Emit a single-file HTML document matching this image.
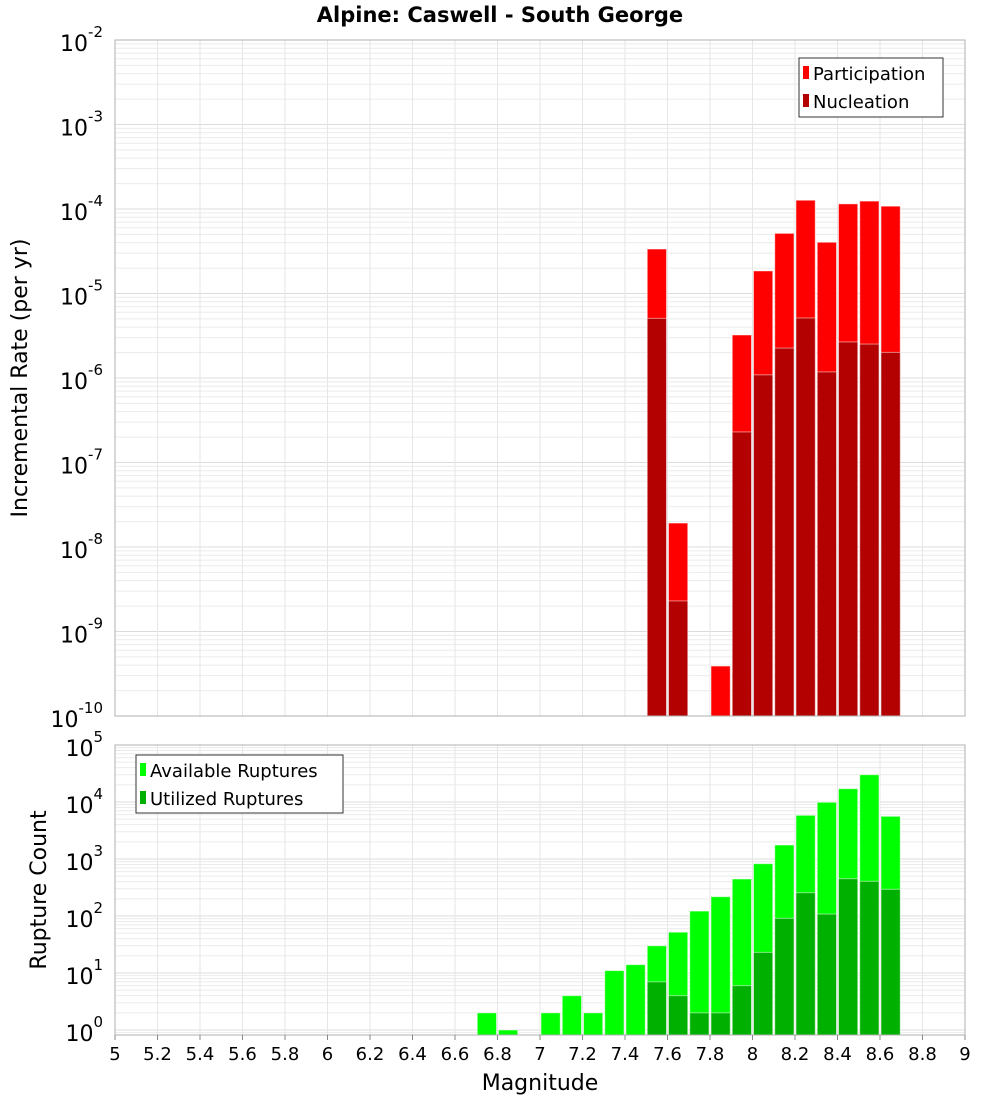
<!DOCTYPE html>
<html><head><meta charset="utf-8"><style>
body{margin:0;background:#fff;}
svg{display:block;font-family:"DejaVu Sans","Liberation Sans",sans-serif;}
</style></head><body>
<svg id="chart" width="1000" height="1100" xmlns="http://www.w3.org/2000/svg">
<text x="500" y="22" text-anchor="middle" font-size="21" font-weight="bold">Alpine: Caswell - South George</text>
<g id="top"></g><g id="bot"></g>
<text transform="translate(27,378) rotate(-90)" text-anchor="middle" font-size="22">Incremental Rate (per yr)</text>
<text transform="translate(46,890) rotate(-90)" text-anchor="middle" font-size="22">Rupture Count</text>
<text x="540" y="1090" text-anchor="middle" font-size="22">Magnitude</text>
<g>
<rect x="799" y="58" width="144" height="59" fill="#fff" stroke="#333"/>
<rect x="803" y="66" width="6" height="13" fill="#ff0000"/>
<text x="813" y="80" font-size="18">Participation</text>
<rect x="803" y="94" width="6" height="13" fill="#b30000"/>
<text x="813" y="108" font-size="18">Nucleation</text>
</g>
<g>
<rect x="136" y="755" width="207" height="58" fill="#fff" stroke="#333"/>
<rect x="140" y="763" width="6" height="13" fill="#00ff00"/>
<text x="150" y="777" font-size="18">Available Ruptures</text>
<rect x="140" y="791" width="6" height="13" fill="#00b000"/>
<text x="150" y="805" font-size="18">Utilized Ruptures</text>
</g>
</svg>
<script>
const topMags = [7.5,7.6,7.8,7.9,8.0,8.1,8.2,8.3,8.4,8.5,8.6];
const participation = [3.36e-5,1.92e-8,3.9e-10,3.23e-6,1.85e-5,5.15e-5,1.27e-4,4.04e-5,1.15e-4,1.24e-4,1.08e-4];
const nucleation = [5.08e-6,2.3e-9,0,2.3e-7,1.09e-6,2.26e-6,5.13e-6,1.18e-6,2.67e-6,2.52e-6,2.01e-6];
const botMags = [6.7,6.8,7.0,7.1,7.2,7.3,7.4,7.5,7.6,7.7,7.8,7.9,8.0,8.1,8.2,8.3,8.4,8.5,8.6];
const available = [2,1,2,4,2,11,14,30,52,122,218,446,827,1760,5840,9880,17100,30100,5610];
const utilized = [0,0,0,0,0,0,0,7,4,2,2,6,23,91,256,108,451,406,294];
const xTicks = [5,5.2,5.4,5.6,5.8,6,6.2,6.4,6.6,6.8,7,7.2,7.4,7.6,7.8,8,8.2,8.4,8.6,8.8,9];
const topExps = [-10,-9,-8,-7,-6,-5,-4,-3,-2];
const botExps = [0,1,2,3,4,5];

const NS="http://www.w3.org/2000/svg";
const X0=115,X1=965;
function xs(m){return X0+(m-5)/4*(X1-X0);}
function mk(parent,tag,attrs){const e=document.createElementNS(NS,tag);for(const k in attrs)e.setAttribute(k,attrs[k]);parent.appendChild(e);return e;}

function panel(g,yTop,yBot,loE,hiE,yLo,exps,name){
  const ys=v=>yBot-(Math.log10(v)-yLo)/(hiE-yLo)*(yBot-yTop);
  const bg=mk(g,'rect',{x:X0,y:yTop,width:X1-X0,height:yBot-yTop,fill:'#fff'});
  
  
  for(let e=Math.floor(yLo);e<hiE;e++){for(let k=1;k<10;k++){const v=k*Math.pow(10,e);const lv=Math.log10(v);if(lv<yLo||lv>hiE)continue;const y=ys(v);
    const l=mk(g,'line',{x1:X0,x2:X1,y1:y,y2:y,stroke:k==1?'#dcdcdc':'#ebebeb','stroke-width':1});
    
    }}
  xTicks.forEach(t=>{const x=xs(t);const l=mk(g,'line',{x1:x,x2:x,y1:yTop,y2:yBot,stroke:'#e6e6e6'});
    
    });
  exps.forEach(e=>{const y=ys(Math.pow(10,e));const t=mk(g,'text',{x:103,y:y+11,'text-anchor':'end','font-size':22});
    
    
    t.textContent='10';const s=mk(t,'tspan',{dy:-14,'font-size':15});s.textContent=String(e);});
  return ys;
}
const gt=document.getElementById('top'),gb=document.getElementById('bot');
const ysT=panel(gt,40,716,-10,-2,-10,topExps,'top');
const ysB=panel(gb,745,1035,0,5,-5/57,botExps,'bottom');
const bw=(X1-X0)/40;
function bars(g,mags,vals,ys,yBot,color,name){
  mags.forEach((m,i)=>{const v=vals[i];if(!(v>0))return;const y=Math.max(ys(v),0);
    const r=mk(g,'rect',{x:xs(m)+1,y:y,width:bw-2,height:yBot-y,fill:color,stroke:'#fff','stroke-opacity':0.5,'stroke-width':1});
    
    });
}
bars(gt,topMags,participation,ysT,716,'#ff0000','participation');
bars(gt,topMags,nucleation,ysT,716,'#b30000','nucleation');
bars(gb,botMags,available,ysB,1035,'#00ff00','available');
bars(gb,botMags,utilized,ysB,1035,'#00b000','utilized');
[[gt,40,716],[gb,745,1035]].forEach(([g,a,b])=>{const r=mk(g,'rect',{x:X0,y:a,width:X1-X0,height:b-a,fill:'none',stroke:'#b0b0b0'});
  
  });
xTicks.forEach(t=>{const x=xs(t);const l=mk(gb,'line',{x1:x,x2:x,y1:1035,y2:1040,stroke:'#888'});
  
  
  const tx=mk(gb,'text',{x:x,y:1060,'text-anchor':'middle','font-size':18});
  
  
  tx.textContent=String(+t.toFixed(1));});
</script>
</body></html>
